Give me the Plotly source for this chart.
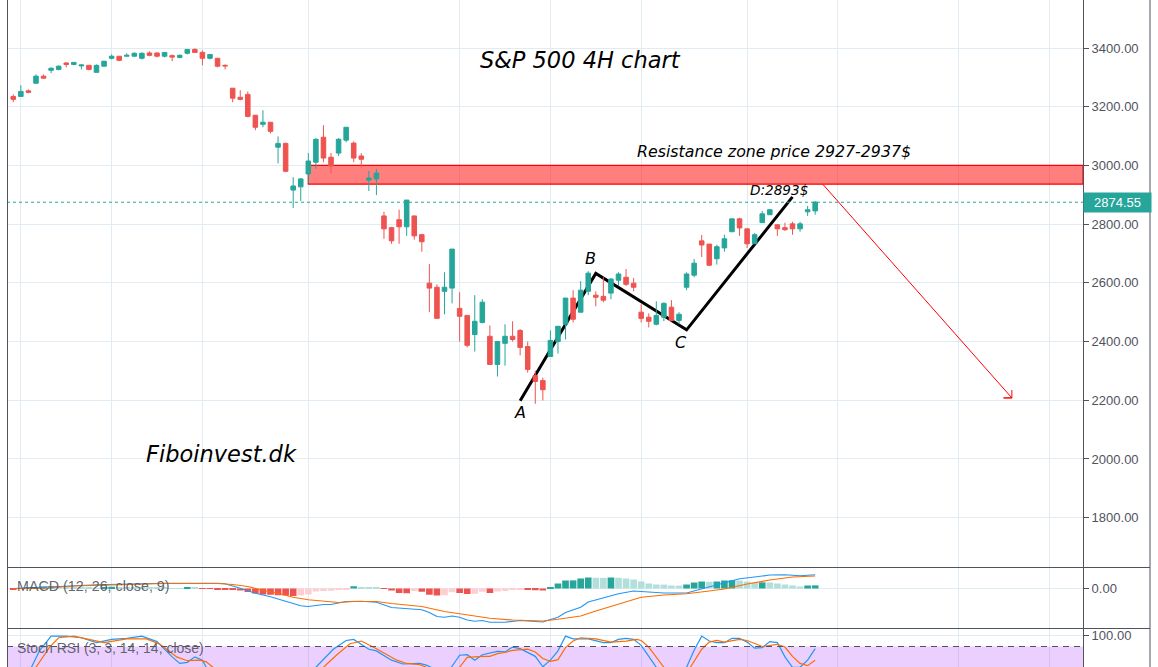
import plotly.graph_objects as go

# ---- candles ----
direction = ("RGRGRGGRGGRGGGRGGGRRGRGGRRGRRRRRRGRGR"
             "GGGGRRGGRRGGRRRGRR"
             "RRGGRRGGRGGRRRRRGGGRGGRRGGRRRRGGRGGGRR"
             "GGGRRGGGRRRGGG")
body_top = [3235,3252,3254,3304,3304,3331,3338,3349,3351,3342,3341,3341,3355,3372,3372,3375,3382,3382,3383,3383,3385,3374,3375,3395,3395,3385,3378,3365,3341,3263,3232,3242,3171,3147,3147,3075,3075,
            2930,2954,3015,3089,3096,3028,3089,3130,3076,3032,2957,2974,2828,2788,2815,2882,2828,2764,
            2599,2585,2585,2715,2513,2489,2469,2534,2418,2400,2418,2418,2438,2383,2284,2267,2404,2452,2548,2548,2575,2633,2558,2554,2613,2630,2619,2599,2500,2483,2489,2530,2517,2493,2630,2667,2743,2732,
            2723,2750,2818,2818,2784,2764,2835,2849,2798,2788,2801,2801,2849,2875]
body_bot = [3225,3235,3249,3280,3297,3324,3327,3344,3344,3339,3327,3317,3338,3365,3358,3372,3372,3365,3375,3372,3372,3369,3368,3382,3385,3365,3365,3338,3339,3229,3225,3167,3130,3140,3116,3062,2980,
            2916,2927,2971,3011,3025,2998,3042,3086,3025,3021,2950,2954,2784,2743,2791,2791,2760,2740,
            2582,2479,2571,2582,2486,2387,2424,2465,2322,2322,2394,2407,2380,2305,2264,2236,2349,2400,2459,2476,2500,2571,2551,2541,2565,2609,2595,2585,2479,2469,2459,2483,2472,2472,2585,2626,2729,2660,
            2682,2719,2774,2787,2733,2733,2805,2832,2784,2781,2784,2784,2842,2845]
wick_hi = [3242,3273,3259,3310,3310,3334,3341,3351,3351,3344,3341,3344,3355,3378,3372,3382,3385,3385,3389,3385,3385,3378,3378,3395,3399,3392,3378,3365,3344,3263,3256,3252,3171,3188,3147,3099,3078,
           2960,2957,3042,3093,3137,3042,3093,3130,3082,3042,2981,2988,2842,2791,2849,2882,2828,2767,
           2664,2595,2636,2715,2568,2489,2558,2544,2455,2400,2459,2469,2442,2400,2301,2277,2438,2452,2549,2575,2606,2640,2571,2619,2616,2636,2647,2616,2527,2496,2537,2534,2541,2500,2636,2681,2763,2732,
           2730,2764,2818,2822,2784,2770,2845,2852,2798,2805,2808,2808,2862,2879]
wick_lo = [3215,3235,3246,3280,3297,3314,3324,3334,3341,3327,3324,3317,3338,3361,3355,3372,3372,3361,3372,3368,3368,3355,3365,3378,3385,3341,3361,3334,3327,3215,3222,3164,3120,3130,3109,3007,2977,
           2855,2879,2940,2988,3011,2974,3032,3079,3011,2994,2913,2899,2750,2733,2733,2760,2747,2706,
           2500,2479,2493,2530,2400,2380,2366,2462,2322,2281,2318,2400,2353,2294,2188,2199,2349,2359,2407,2465,2500,2558,2520,2534,2544,2589,2589,2571,2465,2448,2455,2469,2469,2459,2575,2619,2688,2657,
           2662,2706,2774,2760,2719,2733,2805,2832,2760,2777,2764,2774,2828,2832]

# ---- MACD panel ----
macd_hist = [-3,2,3,6,8,9,8,7,6,4,3,2,5,7,5,4,3.5,3,2.8,2.6,2.4,2,1,5,3,-1,-1.2,-4,-4.2,-6,-8,-14,-20,-24,-25,-27,-28,-30,-28,-24,-12,-10,-9,-5,-3,9,4,3.8,3,-2,-8,-18,-19,-10,-13,
             -25,-28,-27,-15,-18,-22,-21,-13,-18,-12,-10,-6,-3,-4,-7,-8,5,20,32,32.5,40,44,43,42.5,44,43,40,36,28,20,16,15.5,12,11.5,16,24,28,27,28,32,33,32,28,24,24.5,24,20,16,12,8,12,12.5]
macd_i = [0,3,6,11,20,27,28,30,32,34,36,38,39,41,42,44,46,48,50,52,54,55,56,57,58,59,60,61,62,63,65,67,69,70,71,72,73,74,75,76,78,80,82,84,86,89,91,93,95,96,98,100,102,104,106]
macd_v = [0,3,8,15,21,21,19,1,-19,-33,-52,-69,-72,-64,-64,-52,-51,-55,-76,-81,-85,-96,-112,-115,-110,-115,-126,-131,-128,-135,-135,-128,-130,-134,-124,-115,-96,-86,-75,-54,-38,-21,-10,-15,-18,-18,-2,13,31,39,46,54,55,51,55]
signal_i = [0,4,8,14,20,27,29,31,33,35,37,39,41,43,45,48,50,53,54,57,60,63,66,70,72,75,77,80,83,86,89,92,94,97,100,103,106]
signal_v = [0,1,10,16,20,20,16,8,-8,-19,-35,-45,-52,-56,-52,-52,-60,-68,-72,-92,-106,-119,-126,-130,-123,-110,-90,-63,-35,-26,-21,-10,-2,18,34,46,50]

# ---- Stoch RSI panel ----
k_i = [1,2.4,3.5,5,7,9,11,13,15,17,19,21,22,23,24,25,25.5,30,35,40,42.3,44,45,47,48,50,51.5,53.7,54.6,57,57.9,59,60,61,62,64,65,66,67,69,70,71,72,73,74,76,78,79,80,81,82,83,84,85,87,89,90,91,92,93,94,95,96,97,98,99,100,101,102,103,104,105,106]
k_v = [20,42,73,99,99,96,87,93,95,99,89,61,49,51,61,55,42,12,5,42,75,91,93,75,72,55,48,49,46,30,42,64,65,55,65,71,70,79,76,62,43,55,72,99,94,94,87,87,93,95,93,82,62,42,15,42,73,99,90,87,87,95,95,88,77,78,89,87,61,42,42,55,76]
d_i = [2,3,4.8,6,8,9.7,12,15,17.6,19.4,21.6,23,24.7,25.5,26.4,32,38,41,42.7,44.5,46,48,50.7,52,53.7,54.6,58,59,60,62,63,64,65,66,68,69,70,71,72,73,74,75,77,79,81,82.4,83,84,86,88,89.5,91,92,93,94,96,97,99,101,102,103,104,105,106]
d_v = [25,42,79,96,99,94,87,94,94,84,61,54,55,52,42,15,15,42,64,85,90,76,55,49,47,42,25,42,60,62,62,67,69,73,75,70,58,53,56,78,90,96,94,88,90,93,91,79,42,20,42,75,88,91,88,93,91,80,84,79,62,49,45,55]

# ---- text and drawings ----
gridx = [1,13,25,39,59,71,83,97,109,125,137]
price_ticks = [3400,3200,3000,2800,2600,2400,2200,2000,1800]
wave_i = [67,77,89,103]
wave_v = [2198,2632,2440,2893]
arrow_i = [107,132,130.9,132,132]
arrow_v = [2936,2208,2208,2208,2235]
last_price = 2874.55
zone_lo, zone_hi = 2936, 3000

GREEN, RED, LGREEN, LRED = "#26a69a", "#ef5350", "#b2dfdb", "#ffcdd2"
AX, GRID = "#50535e", "#e1ecf2"
W, H = 1158, 667
PRICE_RANGE = [1632, 3563.5]
px = lambda v: v / W
py = lambda v: 1 - v / H

assert len(direction) == len(body_top) == len(body_bot) == len(wick_hi) == len(wick_lo) == len(macd_hist)
idx = list(range(len(body_top)))
opens = [b if d == "G" else t for d, t, b in zip(direction, body_top, body_bot)]
closes = [t if d == "G" else b for d, t, b in zip(direction, body_top, body_bot)]

hist_colors = []
for i, v in enumerate(macd_hist):
    prev = macd_hist[i - 1] if i else 0
    if v >= 0:
        hist_colors.append(GREEN if v >= prev else LGREEN)
    else:
        hist_colors.append(LRED if v >= prev else RED)

fig = go.Figure()
fig.add_trace(go.Scatter(x=wave_i, y=wave_v, mode="lines", yaxis="y", line=dict(color="#000000", width=3)))
fig.add_trace(go.Candlestick(x=idx, open=opens, high=wick_hi, low=wick_lo, close=closes, yaxis="y4",
    increasing=dict(line=dict(color=GREEN, width=1), fillcolor=GREEN),
    decreasing=dict(line=dict(color=RED, width=1), fillcolor=RED), whiskerwidth=0))
fig.add_trace(go.Scatter(x=arrow_i, y=arrow_v, mode="lines", yaxis="y4", line=dict(color="#ff0000", width=1)))
fig.add_trace(go.Bar(x=idx, y=macd_hist, yaxis="y2", marker=dict(color=hist_colors, line_width=0), width=0.88))
fig.add_trace(go.Scatter(x=macd_i, y=macd_v, mode="lines", yaxis="y2", line=dict(color="#2196f3", width=1.2)))
fig.add_trace(go.Scatter(x=signal_i, y=signal_v, mode="lines", yaxis="y2", line=dict(color="#ff6d00", width=1.2)))
fig.add_trace(go.Scatter(x=k_i, y=k_v, mode="lines", yaxis="y3", line=dict(color="#2196f3", width=1.2)))
fig.add_trace(go.Scatter(x=d_i, y=d_v, mode="lines", yaxis="y3", line=dict(color="#ff6d00", width=1.2)))

def yax(domain, rng, ticks, fmt=".2f"):
    return dict(domain=domain, range=rng, side="right", anchor="x", tickvals=ticks, tickformat=fmt,
                showgrid=True, gridcolor=GRID, gridwidth=1, zeroline=False, showline=True,
                linecolor=AX, linewidth=1, ticks="outside", ticklen=5, tickcolor=AX,
                tickfont=dict(family="Liberation Sans", size=13, color=AX))

shapes = [
    dict(type="rect", xref="x", yref="y", x0=39, x1=141.4, y0=zone_lo, y1=zone_hi, layer="between",
         fillcolor="rgba(255,0,0,0.5)", line=dict(color="#ff0000", width=1.2)),
    dict(type="line", xref="paper", yref="y", x0=px(7), x1=px(1083), y0=last_price, y1=last_price,
         line=dict(color=GREEN, width=1, dash="dot")),
    dict(type="rect", xref="x", yref="y3", x0=-1, x1=142, y0=0, y1=80, layer="between",
         fillcolor="rgba(153,21,255,0.2)", line_width=0),
    dict(type="line", xref="paper", yref="y3", x0=px(7), x1=px(1083), y0=80, y1=80,
         line=dict(color=AX, width=1, dash="6px,5px")),
    dict(type="line", xref="paper", yref="paper", x0=px(7.5), x1=px(7.5), y0=0, y1=1, line=dict(color=AX, width=1)),
    dict(type="line", xref="paper", yref="paper", x0=px(1150), x1=px(1150), y0=0, y1=1, line=dict(color=AX, width=1)),
    dict(type="line", xref="paper", yref="paper", x0=px(7), x1=px(1150), y0=py(567.5), y1=py(567.5), line=dict(color=AX, width=1)),
    dict(type="line", xref="paper", yref="paper", x0=px(7), x1=px(1150), y0=py(628.5), y1=py(628.5), line=dict(color=AX, width=1)),
]

def note(text, x, y, size, italic=True, color="#000000", family="DejaVu Sans", anchor="center"):
    return dict(text=f"<i>{text}</i>" if italic else text, x=px(x), y=py(y), xref="paper", yref="paper",
                showarrow=False, xanchor=anchor, yanchor="middle",
                font=dict(family=family, size=size, color=color))

annotations = [
    note("S&amp;P 500 4H chart", 580, 60, 22.5),
    note("Fiboinvest.dk", 222, 454, 22.5),
    note("Resistance zone price 2927-2937$", 774, 152, 15.8),
    note("D:2893$", 779, 190, 13.6),
    note("A", 520, 412, 16),
    note("B", 590, 258, 16),
    note("C", 681, 343, 16),
    note("MACD (12, 26, close, 9)", 15, 586, 14.3, italic=False, color="rgba(80,83,94,0.9)", family="Liberation Sans", anchor="left"),
    note("Stoch RSI (3, 3, 14, 14, close)", 15, 648, 14, italic=False, color="rgba(80,83,94,0.9)", family="Liberation Sans", anchor="left"),
    dict(text=f"{last_price:.2f}", x=px(1083), y=last_price, xref="paper", yref="y", xanchor="left", yanchor="middle",
         showarrow=False, width=67, height=19, bgcolor=GREEN, borderpad=0,
         font=dict(family="Liberation Sans", size=13, color="#ffffff")),
]

fig.update_layout(
    width=W, height=H, margin=dict(l=0, r=0, t=0, b=0), paper_bgcolor="#ffffff", plot_bgcolor="#ffffff",
    showlegend=False, barmode="overlay", boxgap=0.2, boxgroupgap=0.25, shapes=shapes, annotations=annotations,
    xaxis=dict(domain=[px(7), px(1083)], range=[-0.83, 141.4], anchor="y3", rangeslider=dict(visible=False),
               tickvals=gridx, showticklabels=False, ticks="", showgrid=True, gridcolor=GRID, gridwidth=1, zeroline=False),
    yaxis=yax([1 - 567 / H, 1], PRICE_RANGE, price_ticks),
    yaxis2=yax([(H - 628) / H, (H - 568) / H], [-158, 82], [0]),
    yaxis3=yax([0, (H - 629) / H], [42.5, 112], [100]),
    yaxis4=dict(overlaying="y", range=PRICE_RANGE, side="right", anchor="x", visible=False, showgrid=False),
)
fig.write_html("out.html", config={"displayModeBar": False},
               post_script="document.body.style.margin='0';document.body.style.overflow='hidden';")
